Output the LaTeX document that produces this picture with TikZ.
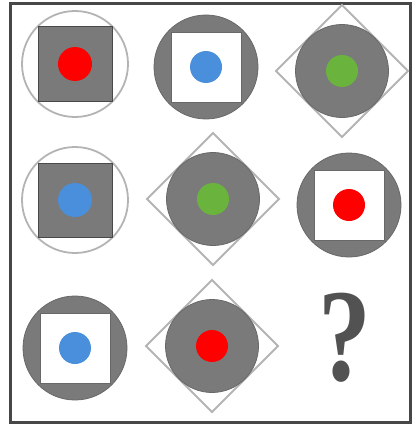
\documentclass[tikz,border=0pt]{standalone}
\usepackage{fontspec}
\usepackage{tikz}
\usetikzlibrary{positioning}
\newfontfamily\qmarkfont{Liberation Serif}

\definecolor{dotred}{HTML}{FF0000}
\definecolor{dotblue}{HTML}{4A8FDB}
\definecolor{dotgreen}{HTML}{6AB43E}
\definecolor{shadegray}{HTML}{7A7A7A}
\definecolor{ringgray}{HTML}{B4B4B4}

\tikzset{
  ring/.style={draw=ringgray, line width=1.8pt},
  disc/.style={fill=shadegray, draw=shadegray!85!black, line width=0.8pt},
  plate/.style={fill=white, draw=shadegray!85!black, line width=0.8pt},
  block/.style={fill=shadegray, draw=shadegray!60!black, line width=1pt},
}

\begin{document}
\begin{tikzpicture}[x=1pt,y=-1pt]
    \useasboundingbox (0,0) rectangle (413,428);
    \fill[white] (0,0) rectangle (413,428);
    \draw[line width=3pt, draw=black!72] (10,4) rectangle (410,422);
    % circle round a gray square
    \foreach \x/\y/\c in {75/64/dotred,75/200/dotblue} {
      \draw[ring] (\x,\y) circle (53);
      \draw[block] (\x-37,\y-37) rectangle ++(74,74);
      \fill[\c] (\x,\y) circle (17);
    }
    % gray disc with a white square
    \foreach \x/\y/\c in {206/67/dotblue,349/205/dotred,75/348/dotblue} {
      \draw[disc] (\x,\y) circle (52);
      \draw[plate] (\x-35,\y-35) rectangle ++(70,70);
      \fill[\c] (\x,\y) circle (16);
    }
    % diamond round a gray disc
    \foreach \x/\y/\c in {342/71/dotgreen,213/199/dotgreen,212/346/dotred} {
      \draw[ring] (\x-66,\y) -- (\x,\y-66) -- (\x+66,\y) -- (\x,\y+66) -- cycle;
      \draw[disc] (\x,\y) circle (46.5);
      \fill[\c] (\x,\y) circle (16);
    }
    \node[text=black!68, xscale=0.8, font=\qmarkfont\bfseries\fontsize{132}{132}\selectfont] (qmark) at (345,338) {?};
\end{tikzpicture}
\end{document}
